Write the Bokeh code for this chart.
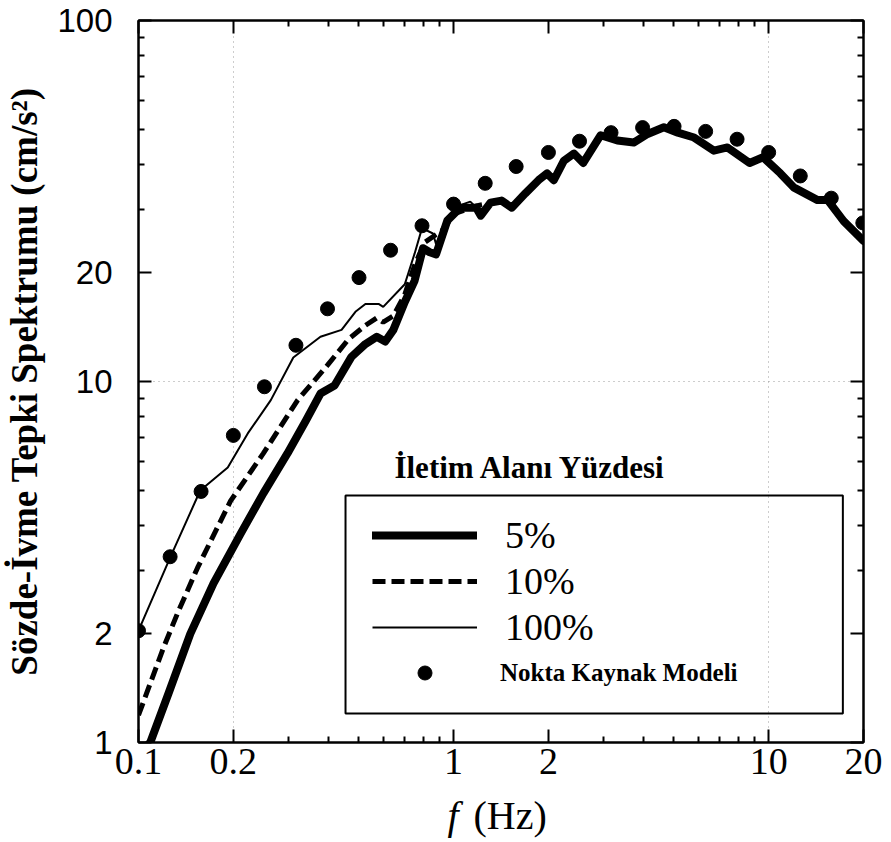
from bokeh.plotting import figure
from bokeh.layouts import column
from bokeh.models import (FixedTicker, CustomJSTickFormatter, LogAxis, Legend, LegendItem,
                          BoxAnnotation, Label, Range1d)
from bokeh.core.properties import value
from bokeh.embed import file_html
from bokeh.resources import INLINE

# ---------------- data ----------------
# 5 % curve, low-frequency part
freq_5 = [0.100, 0.109, 0.125, 0.146, 0.173, 0.211, 0.249, 0.297, 0.340, 0.378, 0.419,
          0.474, 0.525, 0.570, 0.607, 0.644, 0.700, 0.752, 0.800, 0.840, 0.880, 0.955,
          1.05, 1.18, 1.22, 1.31]
sa_5 = [0.93, 1.00, 1.38, 2.00, 2.76, 3.79, 4.90, 6.32, 7.80, 9.26, 9.75,
        11.7, 12.7, 13.3, 12.9, 13.9, 16.6, 19.0, 23.4, 22.8, 22.5, 27.9,
        30.3, 30.3, 28.8, 31.3]

# 10 % curve, low-frequency part
freq_10 = [0.100, 0.120, 0.133, 0.154, 0.196, 0.249, 0.320, 0.398, 0.464, 0.525, 0.570,
           0.598, 0.644, 0.700, 0.752, 0.810, 0.920, 1.01, 1.19, 1.33]
sa_10 = [1.19, 1.83, 2.28, 3.05, 4.67, 6.32, 8.88, 11.1, 13.1, 14.3, 15.0,
         14.6, 15.2, 17.4, 21.0, 24.3, 26.2, 29.2, 30.7, 31.3]

# 100 % curve, low-frequency part
freq_100 = [0.100, 0.126, 0.157, 0.192, 0.222, 0.263, 0.310, 0.378, 0.441, 0.488, 0.525,
            0.578, 0.598, 0.700, 0.752, 0.794, 0.860, 0.880, 0.955, 1.05, 1.13, 1.22, 1.31]
sa_100 = [2.04, 3.25, 4.99, 5.78, 7.17, 8.88, 11.65, 13.3, 13.9, 15.6, 16.4,
          16.4, 16.1, 18.6, 22.6, 26.6, 25.7, 24.0, 28.5, 30.8, 31.5, 29.5, 31.5]

# high-frequency part, common to the three curves
freq_high = [1.42, 1.53, 1.69, 1.86, 1.98, 2.08, 2.24, 2.41, 2.58, 2.93, 3.31, 3.73, 4.13,
             4.65, 5.15, 5.80, 6.70, 7.40, 8.70, 9.60, 10.9, 12.0, 14.3, 15.4, 17.3, 20.0]
sa_high = [31.7, 30.3, 33.2, 36.1, 37.7, 36.1, 40.9, 42.8, 40.3, 48.1, 46.5, 45.9, 48.5,
           50.6, 48.9, 47.4, 43.6, 44.5, 40.3, 41.8, 37.7, 34.5, 31.8, 31.8, 27.8, 24.5]

# point-source model
point_freq = [0.100, 0.126, 0.158, 0.200, 0.251, 0.316, 0.398, 0.501, 0.631, 0.794, 1.00,
              1.26, 1.58, 2.00, 2.51, 3.16, 3.98, 5.01, 6.31, 7.94, 10.0, 12.6, 15.8, 19.9]
point_sa = [2.04, 3.27, 4.96, 7.09, 9.67, 12.6, 15.9, 19.4, 23.1, 27.0, 31.0,
            35.4, 39.4, 43.1, 46.3, 48.9, 50.5, 50.9, 49.3, 46.9, 43.1, 37.1, 32.2, 27.5]

x_major = [0.1, 0.2, 1, 2, 10, 20]
x_minor = [0.3, 0.4, 0.5, 0.6, 0.7, 0.8, 0.9, 3, 4, 5, 6, 7, 8, 9]
y_major = [1, 2, 10, 20, 100]
y_minor = [3, 4, 5, 6, 7, 8, 9, 30, 40, 50, 60, 70, 80, 90]

series_labels = ["5%", "10%", "100%"]
point_label = "Nokta Kaynak Modeli"
legend_title = "İletim Alanı Yüzdesi"
y_title = "Sözde-İvme Tepki Spektrumu (cm/s²)"
x_title_var = "f"
x_title_unit = "(Hz)"

# ---------------- main figure ----------------
p = figure(width=891, height=792, x_axis_type="log", y_axis_type="log",
           x_range=(0.1, 20), y_range=(1, 100),
           output_backend="svg", toolbar_location=None,
           min_border_left=138, min_border_right=28, min_border_top=20, min_border_bottom=50)
p.background_fill_color = "white"
p.border_fill_color = "white"
p.outline_line_color = "black"
p.outline_line_width = 2

fmt = CustomJSTickFormatter(code="return String(tick);")
empty_fmt = CustomJSTickFormatter(code="return '';")


def style_axis(ax, ticks, minors):
    ax.ticker = FixedTicker(ticks=ticks, minor_ticks=minors)
    ax.axis_line_color = "black"
    ax.axis_line_width = 2
    ax.major_tick_in = 13
    ax.major_tick_out = 0
    ax.minor_tick_in = 6
    ax.minor_tick_out = 0
    ax.major_tick_line_width = 2
    ax.minor_tick_line_width = 2
    ax.major_tick_line_color = "black"
    ax.minor_tick_line_color = "black"


xb = p.xaxis[0]
style_axis(xb, x_major, x_minor)
xb.formatter = fmt
xb.major_label_text_font = "Liberation Serif"
xb.major_label_text_font_size = "38px"
xb.major_label_text_color = "black"
xb.major_label_standoff = 6

yl = p.yaxis[0]
style_axis(yl, y_major, y_minor)
yl.formatter = fmt
yl.major_label_text_font = "Liberation Sans"
yl.major_label_text_font_size = "33px"
yl.major_label_text_color = "black"
yl.major_label_standoff = 26
yl.axis_label = y_title
yl.axis_label_text_font = "Liberation Serif"
yl.axis_label_text_font_style = "bold"
yl.axis_label_text_font_size = "37px"
yl.axis_label_text_color = "black"
yl.axis_label_standoff = 9

for loc, ticks, minors in (("above", x_major, x_minor), ("right", y_major, y_minor)):
    ax = LogAxis()
    style_axis(ax, ticks, minors)
    ax.formatter = empty_fmt
    ax.major_label_text_color = None
    ax.major_label_standoff = 0
    p.add_layout(ax, loc)

p.xgrid.ticker = FixedTicker(ticks=[0.2, 10])
p.ygrid.ticker = FixedTicker(ticks=[10])
for g in (p.xgrid[0], p.ygrid[0]):
    g.grid_line_color = "#9a9a9a"
    g.grid_line_dash = "1 4"
    g.grid_line_width = 1

# ---------------- curves ----------------
r5 = p.line(freq_5 + freq_high, sa_5 + sa_high, line_color="black", line_width=8,
            line_join="round", line_cap="round")
r10 = p.line(freq_10 + freq_high, sa_10 + sa_high, line_color="black", line_width=5,
             line_dash="13 6")
r100 = p.line(freq_100 + freq_high, sa_100 + sa_high, line_color="black", line_width=2)
rpt = p.scatter(point_freq, point_sa, size=14, marker="circle",
                fill_color="black", line_color="black")

# ---------------- legend ----------------
box = BoxAnnotation(left=0.454, right=17.2, bottom=1.203, top=4.83,
                    fill_alpha=0, line_color="black", line_alpha=1.0, line_width=2)
p.add_layout(box)

leg1 = Legend(items=[LegendItem(label=series_labels[0], renderers=[r5]),
                     LegendItem(label=series_labels[1], renderers=[r10]),
                     LegendItem(label=series_labels[2], renderers=[r100])],
              location=(234, 93), glyph_width=105, glyph_height=44, label_height=44,
              spacing=2, padding=0, margin=0, label_standoff=28,
              label_text_font="Liberation Serif", label_text_font_size="38px",
              label_text_color="black",
              border_line_color=None, background_fill_alpha=0)
leg2 = Legend(items=[LegendItem(label=point_label, renderers=[rpt])],
              location=(234, 52), glyph_width=105, glyph_height=35, label_height=35,
              padding=0, margin=0, label_standoff=23,
              label_text_font="Liberation Serif", label_text_font_style="bold",
              label_text_font_size="25px", label_text_color="black",
              border_line_color=None, background_fill_alpha=0)
p.add_layout(leg1)
p.add_layout(leg2)

p.add_layout(Label(x=392, y=275, x_units="screen", y_units="screen", text=legend_title,
                   text_font="Liberation Serif", text_font_style="bold",
                   text_font_size="31px", text_align="center", text_baseline="middle",
                   text_color="black"))

# ---------------- x-axis title strip (italic f + (Hz)) ----------------
# the strip's frame is aligned with the main frame (page x 138..863)
p2 = figure(width=891, height=50, x_range=Range1d(138, 863), y_range=Range1d(0, 50),
            x_axis_location=None, y_axis_location=None, title_location=None,
            output_backend="svg", toolbar_location=None,
            min_border=0, min_border_left=0, min_border_right=0,
            min_border_top=0, min_border_bottom=0)
p2.grid.visible = False
p2.outline_line_color = None
p2.background_fill_color = "white"
p2.border_fill_color = "white"
p2.text(x=[447], y=[27.5], text=[x_title_var], text_font=value("Liberation Serif"),
        text_font_style=value("italic"), text_font_size=value("40px"),
        text_baseline=value("alphabetic"), text_align=value("left"), text_color="black")
p2.text(x=[473], y=[27.5], text=[x_title_unit], text_font=value("Liberation Serif"),
        text_font_style=value("normal"), text_font_size=value("40px"),
        text_baseline=value("alphabetic"), text_align=value("left"), text_color="black")

layout = column(p, p2, spacing=0)
open("out.html", "w").write(file_html(layout, INLINE))
